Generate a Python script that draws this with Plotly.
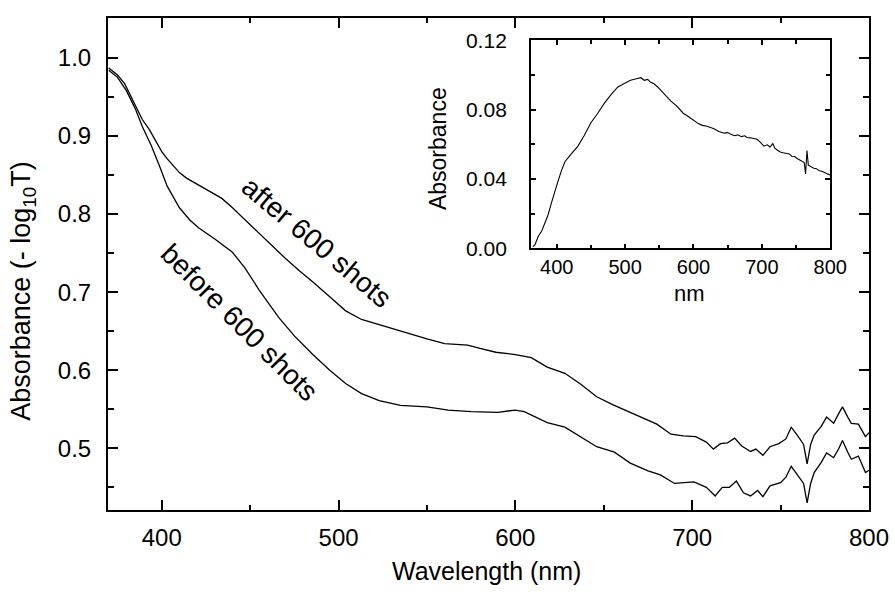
import plotly.graph_objects as go

# ---------------- data ----------------
after_nm = [370, 375, 379, 385, 389, 393, 400, 403, 410, 414, 420, 427, 434, 440, 447, 455,
            462, 470, 478, 485, 495, 504, 513, 523, 532, 541, 550, 560, 566, 573, 580, 589,
            600, 609, 618, 628, 637, 646, 655, 665, 674, 680, 688, 695, 702, 708, 712, 716,
            720, 724, 728, 733, 736, 740, 744, 749, 753, 756, 760, 763, 765, 767, 769, 773,
            776, 780, 783, 785, 788, 790, 794, 798, 800]
after_abs = [0.987, 0.978, 0.967, 0.940, 0.921, 0.908, 0.880, 0.871, 0.853, 0.846, 0.838, 0.829,
             0.820, 0.808, 0.793, 0.775, 0.760, 0.743, 0.727, 0.714, 0.694, 0.676, 0.665, 0.658,
             0.652, 0.646, 0.640, 0.634, 0.633, 0.632, 0.628, 0.623, 0.620, 0.616, 0.604, 0.596,
             0.582, 0.566, 0.556, 0.546, 0.537, 0.531, 0.518, 0.516, 0.515, 0.508, 0.499, 0.506,
             0.507, 0.513, 0.503, 0.496, 0.499, 0.491, 0.502, 0.506, 0.512, 0.527, 0.515, 0.505,
             0.480, 0.505, 0.517, 0.528, 0.540, 0.532, 0.545, 0.553, 0.540, 0.532, 0.531, 0.515,
             0.520]

before_nm = [370, 375, 380, 385, 389, 394, 399, 403, 410, 416, 421, 430, 440, 447, 455, 466,
             475, 485, 495, 504, 513, 523, 535, 550, 562, 575, 590, 600, 605, 612, 618, 628,
             637, 646, 656, 665, 675, 682, 690, 701, 708, 713, 717, 721, 725, 729, 733, 737,
             740, 744, 750, 753, 756, 760, 763, 765, 767, 769, 773, 776, 780, 783, 785, 788,
             790, 794, 798, 800]
before_abs = [0.984, 0.975, 0.958, 0.935, 0.912, 0.888, 0.860, 0.836, 0.808, 0.792, 0.782, 0.768,
              0.751, 0.731, 0.703, 0.668, 0.644, 0.621, 0.600, 0.583, 0.570, 0.561, 0.555, 0.553,
              0.549, 0.547, 0.546, 0.549, 0.547, 0.540, 0.533, 0.527, 0.515, 0.502, 0.495, 0.481,
              0.471, 0.466, 0.455, 0.457, 0.450, 0.439, 0.450, 0.450, 0.458, 0.443, 0.439, 0.446,
              0.438, 0.452, 0.456, 0.463, 0.477, 0.465, 0.455, 0.430, 0.455, 0.469, 0.482, 0.494,
              0.488, 0.500, 0.510, 0.495, 0.486, 0.490, 0.469, 0.472]

inset_nm = [365, 368, 370, 373, 378, 382, 387, 392, 397, 402, 407, 412, 420, 431, 440, 450,
            460, 470, 480, 489, 498, 508, 518, 523, 528, 533, 537, 542, 548, 557, 562, 567,
            576, 585, 593, 601, 607, 613, 620, 630, 637, 645, 650, 654, 660, 665, 670, 675,
            678, 683, 688, 693, 698, 703, 708, 712, 716, 719, 723, 727, 731, 735, 740, 744,
            748, 751, 755, 758, 762, 764, 766, 768, 772, 776, 780, 784, 788, 792, 796, 800]
inset_abs = [0.001, 0.002, 0.004, 0.007, 0.010, 0.014, 0.019, 0.026, 0.033, 0.039, 0.045, 0.050,
             0.054, 0.059, 0.065, 0.0725, 0.078, 0.084, 0.089, 0.093, 0.095, 0.097, 0.098, 0.0985,
             0.097, 0.0975, 0.096, 0.095, 0.093, 0.089, 0.087, 0.085, 0.082, 0.078, 0.076, 0.0734,
             0.072, 0.071, 0.0705, 0.069, 0.0675, 0.0665, 0.0668, 0.066, 0.065, 0.0655, 0.0645,
             0.0650, 0.064, 0.0638, 0.0632, 0.063, 0.0612, 0.059, 0.0598, 0.0585, 0.0605, 0.0578,
             0.0566, 0.0556, 0.0552, 0.0548, 0.0545, 0.0532, 0.053, 0.052, 0.0512, 0.0505, 0.0495,
             0.043, 0.0565, 0.048, 0.0472, 0.0462, 0.046, 0.0448, 0.0445, 0.0435, 0.043, 0.0424]

FONT = "Liberation Sans, Arial, sans-serif"

# ---------------- layout geometry (pixels) ----------------
W, H = 895, 594
L, R, T, B = 108, 873, 6, 510  # main plot box


def px(xp):
    return (xp - L) / (R - L)


def py(yp):
    return (B - yp) / (B - T)


fig = go.Figure()
line = dict(color="black", width=1.3)
fig.add_trace(go.Scatter(x=after_nm, y=after_abs, mode="lines", line=line,
                         xaxis="x", yaxis="y", showlegend=False))
fig.add_trace(go.Scatter(x=before_nm, y=before_abs, mode="lines", line=line,
                         xaxis="x", yaxis="y", showlegend=False))
fig.add_trace(go.Scatter(x=inset_nm, y=inset_abs, mode="lines",
                         line=dict(color="black", width=1.1),
                         xaxis="x2", yaxis="y2", showlegend=False))

main_ax = dict(showline=True, linewidth=2, linecolor="black", mirror="ticks",
               ticks="inside", tickwidth=2, tickcolor="black", ticklen=10,
               showgrid=False, zeroline=False,
               tickfont=dict(family=FONT, size=24, color="black"))

fig.update_layout(
    width=W, height=H,
    margin=dict(l=L, r=W - R, t=T, b=H - B),
    paper_bgcolor="white", plot_bgcolor="white",
    xaxis=dict(**main_ax, range=[369.6, 800], tick0=400, dtick=100,
               domain=[0, 1], ticklabelstandoff=5,
               minor=dict(dtick=50, tick0=400, ticks="inside", ticklen=5,
                          tickwidth=2, tickcolor="black")),
    yaxis=dict(**main_ax, range=[0.421, 1.051], tick0=0.5, dtick=0.1,
               tickformat=".1f", domain=[0, 1], ticklabelstandoff=10,
               minor=dict(dtick=0.05, tick0=0.5, ticks="inside", ticklen=6,
                          tickwidth=2, tickcolor="black")),
    xaxis2=dict(showline=True, linewidth=1.5, linecolor="black", mirror="ticks",
                ticks="inside", tickwidth=1.5, tickcolor="black", ticklen=5,
                showgrid=False, zeroline=False, anchor="y2",
                domain=[px(533), px(834)], range=[362, 800], tick0=400, dtick=100,
                ticklabelstandoff=0,
                tickfont=dict(family=FONT, size=20, color="black"),
                minor=dict(dtick=50, tick0=400, ticks="inside", ticklen=4,
                           tickwidth=1.5, tickcolor="black")),
    yaxis2=dict(showline=True, linewidth=1.5, linecolor="black", mirror="ticks",
                ticks="inside", tickwidth=1.5, tickcolor="black", ticklen=5,
                showgrid=False, zeroline=False, anchor="x2",
                domain=[py(242), py(29)], range=[0, 0.12], tick0=0, dtick=0.04,
                tickformat=".2f", ticklabelstandoff=18,
                tickfont=dict(family=FONT, size=21, color="black"),
                minor=dict(dtick=0.02, tick0=0, ticks="inside", ticklen=4,
                           tickwidth=1.5, tickcolor="black")),
)

fig.add_annotation(text="Wavelength (nm)", x=px(488), y=py(572), xref="paper", yref="paper",
                   showarrow=False, font=dict(family=FONT, size=25, color="black"),
                   xanchor="center", yanchor="middle")
fig.add_annotation(text="Absorbance (- log<sub>10</sub>T)", x=px(23), y=py(285),
                   xref="paper", yref="paper", textangle=-90,
                   showarrow=False, font=dict(family=FONT, size=27, color="black"),
                   xanchor="center", yanchor="middle")
fig.add_annotation(text="Absorbance", x=px(440), y=py(140), xref="paper", yref="paper",
                   textangle=-90, showarrow=False,
                   font=dict(family=FONT, size=23, color="black"),
                   xanchor="center", yanchor="middle")
fig.add_annotation(text="nm", x=px(693), y=py(288), xref="paper", yref="paper",
                   showarrow=False, font=dict(family=FONT, size=22, color="black"),
                   xanchor="center", yanchor="middle")
fig.add_annotation(text="after 600 shots", x=px(318), y=py(236), xref="paper", yref="paper",
                   textangle=40, showarrow=False,
                   font=dict(family=FONT, size=28, color="black"),
                   xanchor="center", yanchor="middle")
fig.add_annotation(text="before 600 shots", x=px(240), y=py(318), xref="paper", yref="paper",
                   textangle=45, showarrow=False,
                   font=dict(family=FONT, size=28, color="black"),
                   xanchor="center", yanchor="middle")

fig.write_html("out.html")
